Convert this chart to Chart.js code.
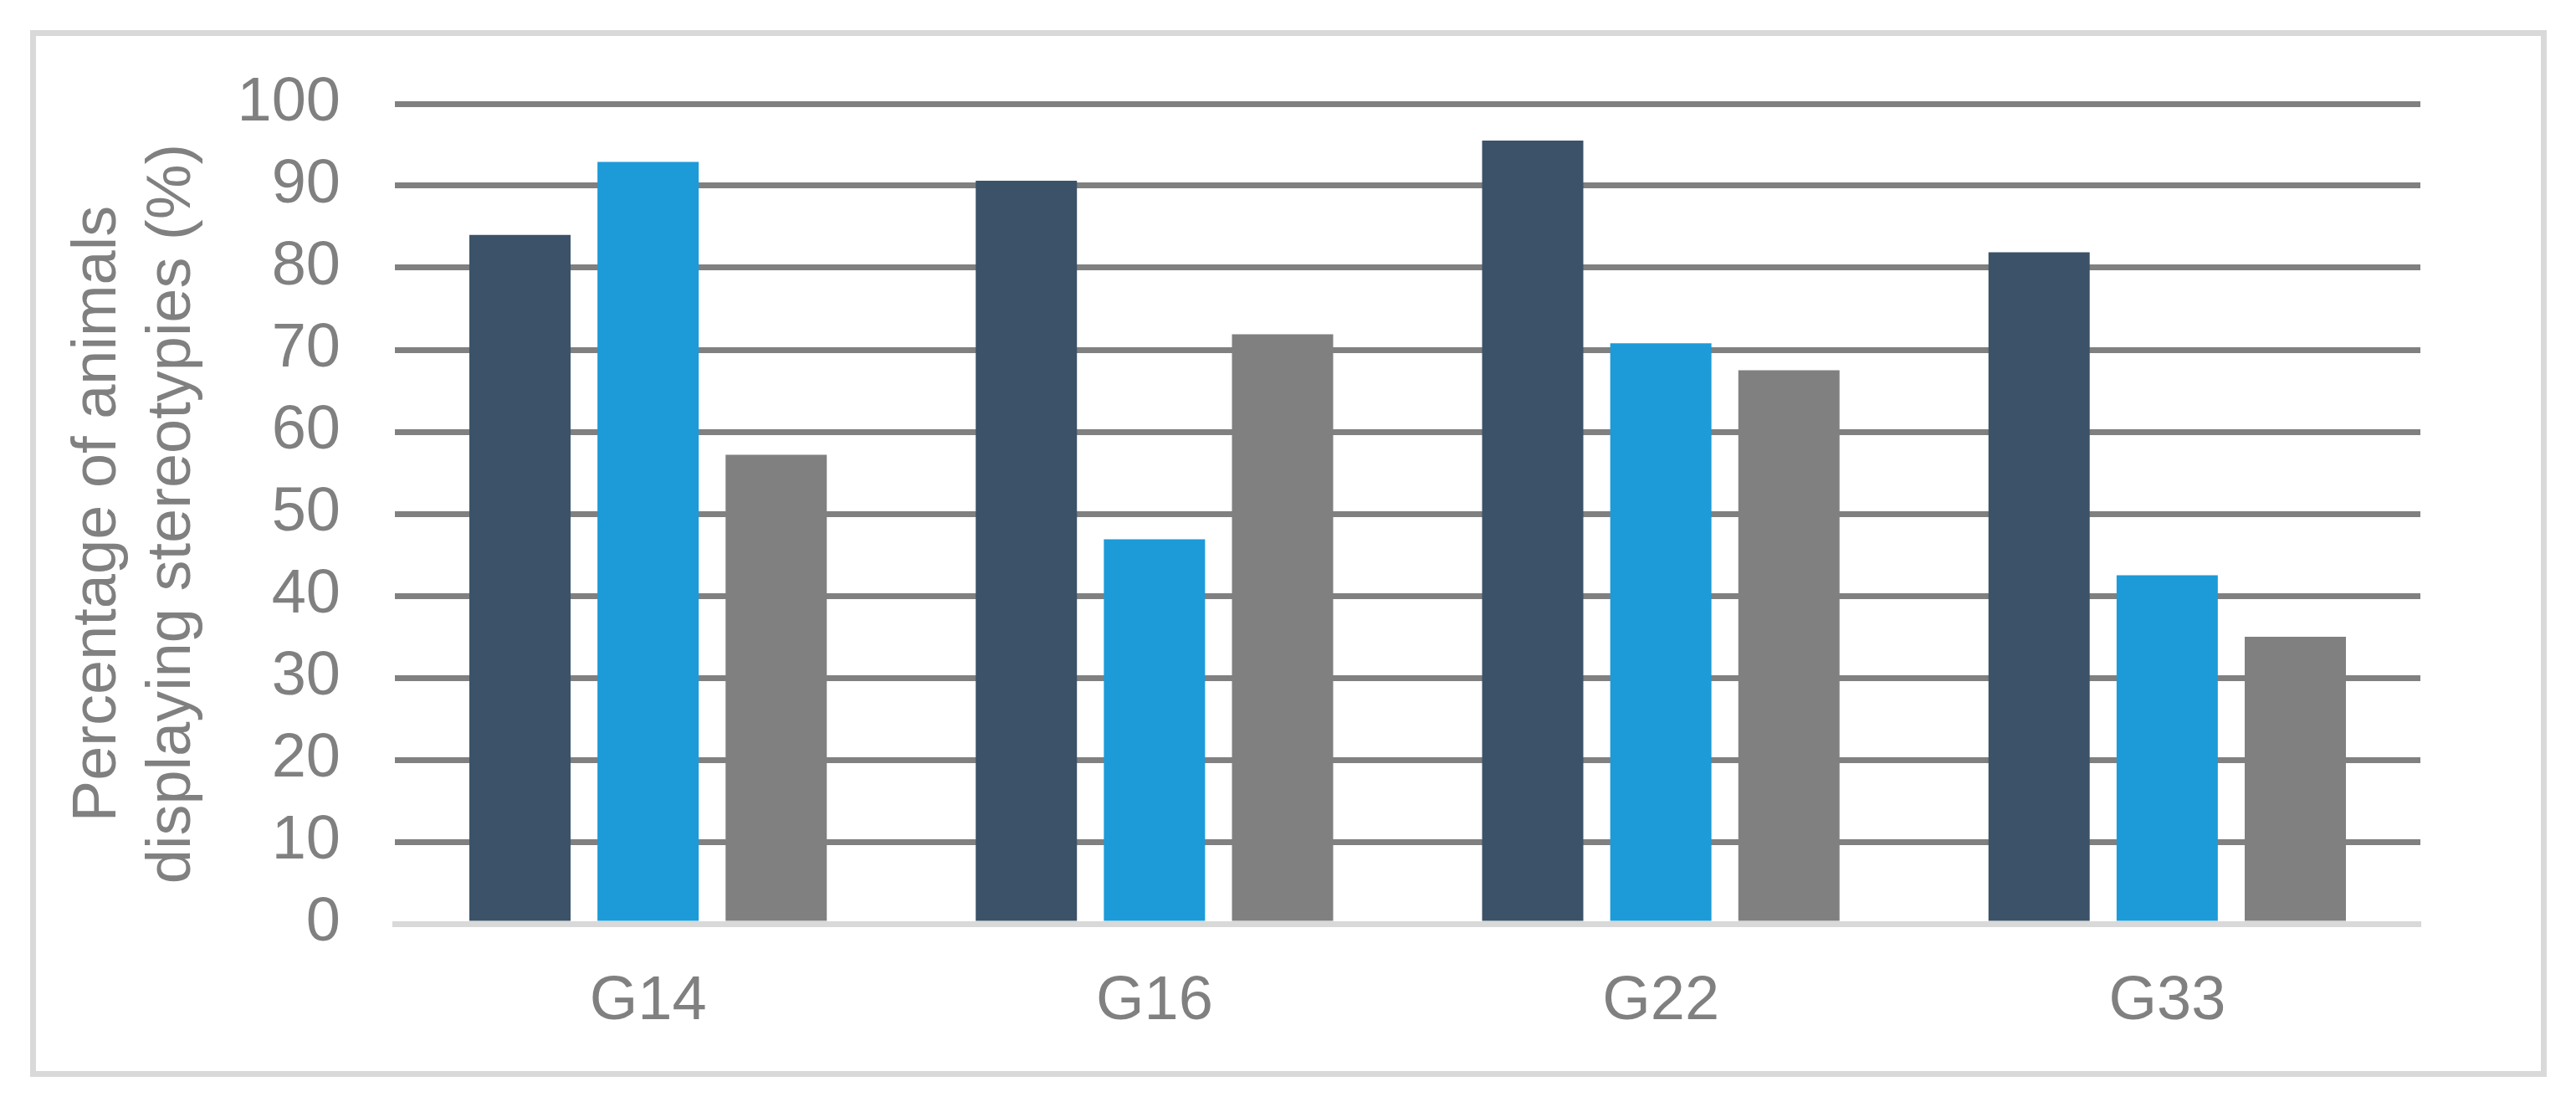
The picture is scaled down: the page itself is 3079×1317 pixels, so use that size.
<!DOCTYPE html>
<html>
<head>
<meta charset="utf-8">
<title>Stereotypies by group</title>
<script src="https://cdn.jsdelivr.net/npm/chart.js@4.4.1/dist/chart.umd.min.js"></script>
<style>
    html, body { margin: 0; padding: 0; background: #ffffff; }
    #wrap { position: relative; width: 3079px; height: 1317px; }
    #chart { position: absolute; left: 0; top: 0; }
    /* light grey frame around the whole figure */
    #frame {
        position: absolute; left: 36px; top: 36px;
        width: 2994px; height: 1237px;
        border: 7px solid #d9d9d9; pointer-events: none;
    }
</style>
</head>
<body>
<div id="wrap">
    <canvas id="chart" width="3079" height="1317"></canvas>
    <div id="frame"></div>
</div>
<script>
// ── data ─────────────────────────────────────────────────────────────────────
const groups = ["G14", "G16", "G22", "G33"];
const series1 = [84.0, 90.6, 95.5, 81.9];
const series2 = [92.9, 46.9, 70.8, 42.5];
const series3 = [57.2, 71.9, 67.5, 35.0];
const seriesNames = ["Series 1", "Series 2", "Series 3"];
const yMin = 0, yMax = 100, yStep = 10;
const yTitle = ["Percentage of animals", "displaying stereotypies (%)"];

// ── colours ──────────────────────────────────────────────────────────────────
const COLORS = ["#3b5269", "#1c9bd8", "#808080"];
const TEXT = "#808080";
const GRID = "#808080";
const AXIS = "#d9d9d9";

// ── defaults ─────────────────────────────────────────────────────────────────
Chart.defaults.font.family = "'Liberation Sans', Arial, sans-serif";
Chart.defaults.font.size = 74;
Chart.defaults.color = TEXT;
Chart.defaults.responsive = false;
Chart.defaults.animation = false;

const ctx = document.getElementById("chart").getContext("2d");
new Chart(ctx, {
    type: "bar",
    data: {
        labels: groups,
        datasets: [series1, series2, series3].map((d, i) => ({
            label: seriesNames[i],
            data: d,
            backgroundColor: COLORS[i],
            borderWidth: 0,
            categoryPercentage: 0.759,
            barPercentage: 0.79,
        })),
    },
    options: {
        layout: { padding: { left: 0, top: 124, right: 186, bottom: 0 } },
        plugins: {
            legend: { display: false },
            tooltip: { enabled: false },
        },
        scales: {
            x: {
                z: 1,
                grid: { display: false },
                border: { display: true, color: AXIS, width: 7 },
                ticks: { padding: 41, color: TEXT, font: { size: 74 } },
                afterFit: s => { s.height = 213; },
            },
            y: {
                min: yMin,
                max: yMax,
                grid: {
                    drawTicks: false,
                    lineWidth: 7,
                    color: c => (c.tick && c.tick.value === 0 ? AXIS : GRID),
                },
                border: { display: false },
                ticks: { stepSize: yStep, padding: 65, color: TEXT, font: { size: 74 } },
                title: {
                    display: true,
                    text: yTitle,
                    color: TEXT,
                    font: { size: 74, lineHeight: 1.2 },
                    padding: { top: 73, bottom: 0 },
                },
                afterFit: s => { s.width = 472; },
            },
        },
    },
});
</script>
</body>
</html>
